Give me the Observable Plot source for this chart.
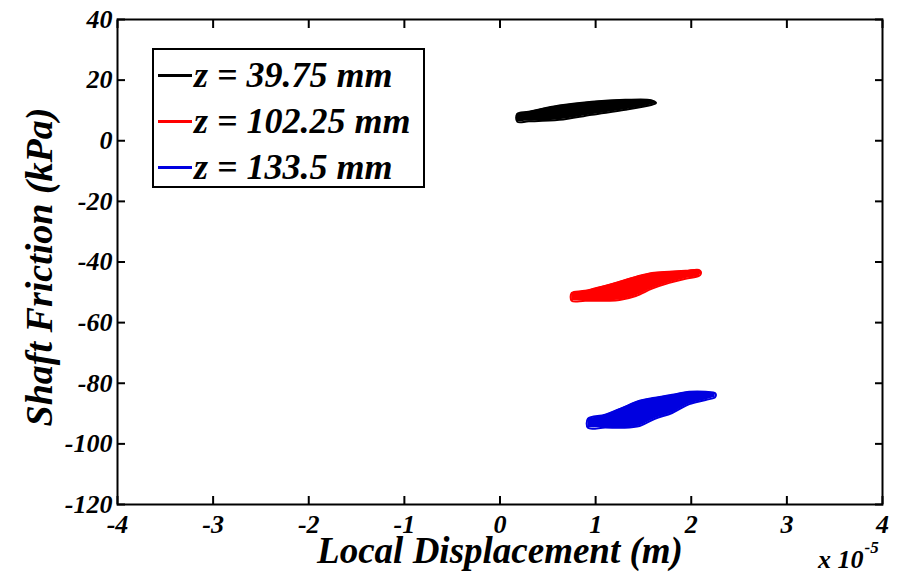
<!DOCTYPE html>
<html>
<head>
<meta charset="utf-8">
<script src="https://cdn.jsdelivr.net/npm/d3@7"></script>
<script src="https://cdn.jsdelivr.net/npm/@observablehq/plot@0.6"></script>
<style>
  html, body { margin: 0; padding: 0; background: #fff; }
  #wrap { position: relative; width: 909px; height: 582px; }
  #wrap svg { font-family: "Liberation Serif", serif; font-weight: bold; font-style: italic; }
  .legend { position: absolute; left: 152px; top: 48px; width: 269px; height: 136px;
            border: 2px solid #000; background: #fff;
            font-family: "Liberation Serif", serif; font-weight: bold; font-style: italic; font-size: 36px; }
  .legend .row { position: absolute; left: 0; height: 40px; display: flex; align-items: center; white-space: nowrap; }
  .legend .sw { width: 34px; height: 3px; margin-left: 4px; margin-right: 2px; }
</style>
</head>
<body>
<div id="wrap"></div>
<script>
// ---- data (x in units of 1e-5 m, y in kPa) ----
const seriesNames = ["z = 39.75 mm", "z = 102.25 mm", "z = 133.5 mm"];
const seriesColors = ["#000000", "#ff0000", "#0000e0"];

const blackX     = [0.18, 0.30, 0.62, 0.96, 1.31, 1.58, 1.63];
const blackUpper = [8.9, 9.6, 11.6, 12.9, 13.5, 13.4, 12.6];
const blackLower = [6.3, 6.4, 6.9, 8.6, 10.2, 11.8, 12.4];

const redX     = [0.75, 0.89, 1.25, 1.42, 1.59, 1.77, 1.94, 2.08, 2.10];
const redUpper = [-50.2, -49.5, -46.5, -44.9, -43.6, -43.2, -42.9, -42.6, -43.2];
const redLower = [-52.8, -52.8, -52.5, -51.2, -48.8, -46.9, -45.5, -44.6, -43.9];

const blueX     = [0.92, 1.10, 1.28, 1.46, 1.62, 1.80, 1.98, 2.15, 2.25];
const blueUpper = [-91.7, -90.4, -88.1, -85.8, -84.8, -83.8, -82.8, -82.8, -83.3];
const blueLower = [-94.7, -94.6, -94.7, -94.1, -91.7, -89.8, -86.9, -85.5, -84.6];

const xTicks = [-4, -3, -2, -1, 0, 1, 2, 3, 4];
const yTicks = [40, 20, 0, -20, -40, -60, -80, -100, -120];
const xTitle = "Local Displacement (m)";
const yTitle = "Shaft Friction (kPa)";
const xMultiplier = "x 10";
const xExponent = "-5";

// ---- build table ----
const groups = [[blackX, blackUpper, blackLower], [redX, redUpper, redLower], [blueX, blueUpper, blueLower]];
const rows = [];
groups.forEach(([xs, up, lo], i) => xs.forEach((x, j) => rows.push({s: seriesNames[i], x, y1: lo[j], y2: up[j]})));
const outline = [];
groups.forEach(([xs, up, lo], i) => {
  xs.forEach((x, j) => outline.push({s: seriesNames[i], x, y: up[j]}));
  for (let j = xs.length - 1; j >= 0; j--) outline.push({s: seriesNames[i], x: xs[j], y: lo[j]});
});

const colorScale = {domain: seriesNames, range: seriesColors};

const chart = Plot.plot({
  width: 909,
  height: 582,
  marginLeft: 117,
  marginRight: 27,
  marginTop: 19,
  marginBottom: 78,
  style: {background: "#fff", fontFamily: "Liberation Serif", fontWeight: "bold", fontStyle: "italic", fontSize: "26px"},
  x: {domain: [-4, 4]},
  y: {domain: [-120, 40]},
  color: colorScale,
  marks: [
    Plot.areaY(rows, {x: "x", y1: "y1", y2: "y2", z: "s", fill: "s", curve: "catmull-rom"}),
    Plot.line(outline, {x: "x", y: "y", z: "s", stroke: "s", strokeWidth: 2, curve: "catmull-rom-closed"}),
    Plot.axisX({anchor: "bottom", ticks: xTicks, tickSize: -8, tickPadding: 18, strokeWidth: 2, label: null, tickFormat: d => String(d)}),
    Plot.axisX({anchor: "top", ticks: xTicks, tickSize: -8, strokeWidth: 2, label: null, tickFormat: () => ""}),
    Plot.axisY({anchor: "left", ticks: yTicks, tickSize: -8, tickPadding: 13, strokeWidth: 2, label: null, tickFormat: d => String(d)}),
    Plot.axisY({anchor: "right", ticks: yTicks, tickSize: -8, strokeWidth: 2, label: null, tickFormat: () => ""}),
    Plot.frame({stroke: "#000", strokeWidth: 2}),
    Plot.text([xTitle], {frameAnchor: "bottom", dy: 58, fontSize: 37, text: d => d, fill: "#000"}),
    Plot.text([yTitle], {frameAnchor: "left", textAnchor: "middle", dx: -78, dy: 5, rotate: -90, fontSize: 38, text: d => d, fill: "#000"}),
    Plot.text([xMultiplier], {frameAnchor: "bottom-right", textAnchor: "end", dx: -19, dy: 63, fontSize: 26, text: d => d, fill: "#000"}),
    Plot.text([xExponent], {frameAnchor: "bottom-right", textAnchor: "start", dx: -18, dy: 48, fontSize: 17, text: d => d, fill: "#000"})
  ]
});

const wrap = document.getElementById("wrap");
wrap.appendChild(chart);

// legend overlay
const legend = document.createElement("div");
legend.className = "legend";
seriesNames.forEach((name, i) => {
  const row = document.createElement("div");
  row.className = "row";
  row.style.top = (5 + i * 46) + "px";
  const sw = document.createElement("span");
  sw.className = "sw";
  sw.style.background = seriesColors[i];
  const t = document.createElement("span");
  t.textContent = name;
  row.appendChild(sw);
  row.appendChild(t);
  legend.appendChild(row);
});
wrap.appendChild(legend);
</script>
</body>
</html>
